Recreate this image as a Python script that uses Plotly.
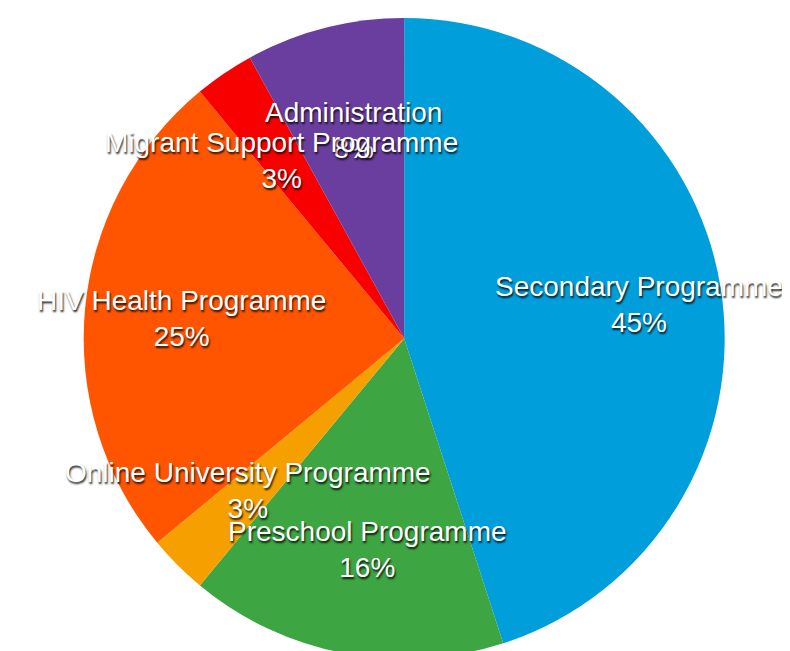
import math
import plotly.graph_objects as go

labels = ["Secondary Programme", "Preschool Programme", "Online University Programme",
          "HIV Health Programme", "Migrant Support Programme", "Administration"]
values = [45, 16, 3, 25, 3, 8]
colors = ["#009FDB", "#3DA542", "#F5A000", "#FF5500", "#F80000", "#6A3E9E"]

W, H = 790, 651
M_T, M_B, M_L, M_R = 10, 0, 0, 0
DOM_X = [0.003, 1.0]
DOM_Y = [0.0, 1.0]

fig = go.Figure(go.Pie(
    labels=labels, values=values, sort=False, direction="clockwise", rotation=0,
    marker=dict(colors=colors, line=dict(width=0)),
    textinfo="none", hoverinfo="label+percent", showlegend=False,
    domain=dict(x=DOM_X, y=DOM_Y),
))

# geometry of the pie derived from layout
pw, ph = W - M_L - M_R, H - M_T - M_B
dw, dh = (DOM_X[1] - DOM_X[0]) * pw, (DOM_Y[1] - DOM_Y[0]) * ph
R = min(dw, dh) / 2
cx = M_L + DOM_X[0] * pw + dw / 2 + 7
cy = M_T + (1 - DOM_Y[1]) * ph + dh / 2
kx, ky = 0.72, 0.67

total = sum(values)
cum = 0
annots = []
for lab, v in zip(labels, values):
    mid = (cum + v / 2) / total * 2 * math.pi
    cum += v
    px = cx + kx * R * math.sin(mid)
    py = cy - ky * R * math.cos(mid)
    pct = round(100 * v / total)
    annots.append((lab, pct, px, py))

# draw Administration first so Migrant label overlaps it as in the reference
order = [5, 0, 1, 2, 3, 4]
for i in order:
    lab, pct, px, py = annots[i]
    fig.add_annotation(
        x=(px - M_L) / pw, y=(H - M_B - py) / ph, xref="paper", yref="paper",
        xanchor="center", yanchor="middle",
        text=f"{lab}<br>{pct}%", showarrow=False, align="center",
        font=dict(family="Liberation Sans, Arial, sans-serif", size=28, color="white",
                  shadow="1px 2px 2px rgba(0,0,0,0.85)"),
    )

fig.update_layout(
    width=W, height=H, margin=dict(l=M_L, r=M_R, t=M_T, b=M_B),
    paper_bgcolor="white", plot_bgcolor="white",
)
fig.write_html("out.html")
